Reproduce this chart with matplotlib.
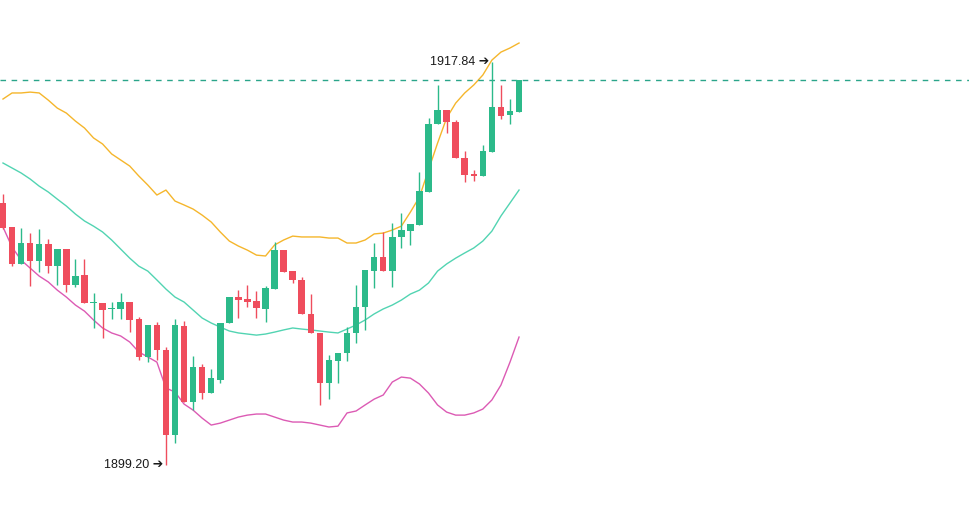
import numpy as np
import matplotlib
matplotlib.use("Agg")
import matplotlib.pyplot as plt

# 日K 数据 (开 高 低 收)
opens = [1911.32, 1910.21, 1908.50, 1909.47, 1908.64, 1909.42, 1908.40, 1909.19, 1907.53, 1907.99,
         1906.69, 1906.69, 1906.42, 1906.42, 1906.74, 1905.95, 1904.20, 1905.68, 1904.52, 1900.59,
         1905.63, 1902.11, 1903.73, 1902.53, 1903.13, 1905.77, 1906.97, 1906.88, 1906.79, 1906.42,
         1907.34, 1909.14, 1908.17, 1907.76, 1906.19, 1905.31, 1902.99, 1904.01, 1904.38, 1905.31,
         1906.51, 1908.17, 1908.82, 1908.17, 1909.75, 1910.02, 1910.30, 1911.83, 1914.97, 1915.62,
         1915.07, 1913.40, 1912.66, 1912.57, 1913.68, 1915.76, 1915.39, 1915.53]
highs = [1911.73, 1910.21, 1910.16, 1909.93, 1910.12, 1909.65, 1909.19, 1909.19, 1908.73, 1908.73,
         1907.16, 1906.69, 1906.74, 1907.16, 1906.74, 1906.05, 1905.68, 1905.82, 1904.66, 1905.95,
         1905.86, 1904.24, 1903.87, 1903.64, 1905.77, 1906.97, 1907.29, 1907.53, 1907.25, 1907.48,
         1909.51, 1909.14, 1908.17, 1907.90, 1907.11, 1905.31, 1904.29, 1904.38, 1905.58, 1907.53,
         1908.22, 1909.47, 1909.98, 1910.39, 1910.86, 1910.35, 1912.75, 1915.25, 1916.78, 1915.62,
         1915.16, 1913.72, 1912.85, 1914.00, 1917.84, 1916.78, 1916.13, 1917.01]
lows = [1910.12, 1908.40, 1908.50, 1907.48, 1908.13, 1908.08, 1907.53, 1907.20, 1907.43, 1906.69,
        1905.54, 1905.07, 1905.95, 1905.95, 1905.35, 1904.06, 1903.96, 1904.06, 1899.20, 1900.22,
        1902.11, 1901.74, 1902.25, 1902.53, 1902.99, 1905.77, 1906.00, 1906.51, 1906.00, 1905.82,
        1907.34, 1908.13, 1907.62, 1906.19, 1905.31, 1901.98, 1902.25, 1902.99, 1904.01, 1904.84,
        1905.45, 1907.39, 1908.17, 1907.43, 1909.24, 1909.38, 1910.30, 1911.83, 1914.97, 1914.56,
        1913.40, 1912.29, 1912.34, 1912.57, 1913.68, 1915.20, 1914.97, 1915.53]
closes = [1910.16, 1908.50, 1909.47, 1908.64, 1909.42, 1908.40, 1909.19, 1907.53, 1907.94, 1906.69,
          1906.74, 1906.37, 1906.46, 1906.74, 1905.91, 1904.20, 1905.68, 1904.52, 1900.59, 1905.68,
          1902.11, 1903.73, 1902.53, 1903.22, 1905.77, 1906.97, 1906.83, 1906.74, 1906.46, 1907.39,
          1909.14, 1908.13, 1907.76, 1906.19, 1905.31, 1902.99, 1904.06, 1904.38, 1905.31, 1906.51,
          1908.22, 1908.82, 1908.17, 1909.75, 1910.07, 1910.35, 1911.87, 1914.97, 1915.62, 1915.07,
          1913.40, 1912.61, 1912.57, 1913.72, 1915.76, 1915.34, 1915.57, 1917.01]

# 布林线 上轨 / 中轨 / 下轨
boll_up = [1916.13, 1916.41, 1916.41, 1916.45, 1916.41, 1916.08, 1915.71, 1915.48, 1915.11, 1914.79,
           1914.33, 1914.05, 1913.59, 1913.31, 1913.03, 1912.57, 1912.15, 1911.69, 1911.92, 1911.41,
           1911.23, 1911.04, 1910.76, 1910.44, 1909.98, 1909.56, 1909.33, 1909.14, 1908.91, 1908.87,
           1909.38, 1909.61, 1909.79, 1909.75, 1909.75, 1909.75, 1909.70, 1909.70, 1909.47, 1909.47,
           1909.61, 1909.89, 1909.93, 1910.07, 1910.25, 1910.90, 1911.60, 1912.85, 1914.09, 1915.25,
           1915.94, 1916.41, 1916.78, 1917.24, 1917.93, 1918.30, 1918.49, 1918.72]
boll_mid = [1913.17, 1912.94, 1912.71, 1912.43, 1912.10, 1911.83, 1911.50, 1911.18, 1910.81, 1910.49,
            1910.25, 1909.98, 1909.61, 1909.19, 1908.77, 1908.40, 1908.17, 1907.76, 1907.34, 1906.97,
            1906.74, 1906.37, 1906.00, 1905.77, 1905.58, 1905.40, 1905.31, 1905.26, 1905.21, 1905.26,
            1905.35, 1905.45, 1905.54, 1905.49, 1905.45, 1905.40, 1905.35, 1905.31, 1905.49, 1905.68,
            1905.91, 1906.19, 1906.42, 1906.60, 1906.83, 1907.11, 1907.29, 1907.62, 1908.17, 1908.50,
            1908.77, 1909.01, 1909.24, 1909.56, 1910.02, 1910.72, 1911.32, 1911.92]
boll_low = [1910.21, 1909.28, 1908.68, 1908.31, 1907.94, 1907.67, 1907.29, 1906.97, 1906.60, 1906.32,
            1905.91, 1905.54, 1905.31, 1905.17, 1904.89, 1904.43, 1904.20, 1903.96, 1902.76, 1902.58,
            1902.02, 1901.74, 1901.37, 1901.05, 1901.14, 1901.28, 1901.42, 1901.51, 1901.56, 1901.56,
            1901.42, 1901.28, 1901.19, 1901.19, 1901.14, 1901.05, 1900.96, 1901.00, 1901.61, 1901.70,
            1901.98, 1902.25, 1902.44, 1903.04, 1903.27, 1903.22, 1902.95, 1902.53, 1901.98, 1901.65,
            1901.51, 1901.51, 1901.61, 1901.79, 1902.21, 1902.90, 1903.96, 1905.12]

up_color = '#2cba8a'
down_color = '#ef4d5d'

fig = plt.figure(figsize=(9.69, 5.23), dpi=100)
ax = fig.add_axes([0, 0, 1, 1])

x = np.arange(len(closes))
o = np.array(opens)
c = np.array(closes)
colors = [up_color if cc >= oo else down_color for oo, cc in zip(o, c)]

# 影线
ax.vlines(x, lows, highs, colors=colors, linewidth=1, zorder=2)
# 实体
bottoms = np.minimum(o, c)
heights = np.maximum(np.abs(c - o), 0.06)
ax.bar(x, heights, bottom=bottoms, width=0.72, color=colors, linewidth=0, zorder=3)

# 布林线
ax.plot(x, boll_up, color='#f5b62c', linewidth=1, zorder=1)
ax.plot(x, boll_mid, color='#52d4b2', linewidth=1, zorder=1)
ax.plot(x, boll_low, color='#dc5bb4', linewidth=1, zorder=1)

# 最新价虚线
ax.axhline(closes[-1], color='#2aa58a', linewidth=1, linestyle=(0, (4, 4)), zorder=1)

# 最高 / 最低 标注
hi = int(np.argmax(highs))
lo = int(np.argmin(lows))
for idx, val in [(hi, highs[hi]), (lo, lows[lo])]:
    ax.annotate('%.2f ➔' % val, xy=(idx, val), xytext=(-2, 0), textcoords='offset points',
                ha='right', va='center', fontsize=9, color='#1a1a1a',
                family=['Liberation Sans', 'DejaVu Sans'])

ax.set_xlim(-0.33, 106.7)
ax.set_ylim(1896.52, 1920.71)
ax.axis('off')

fig.savefig('out.png', dpi=100, facecolor='white')
